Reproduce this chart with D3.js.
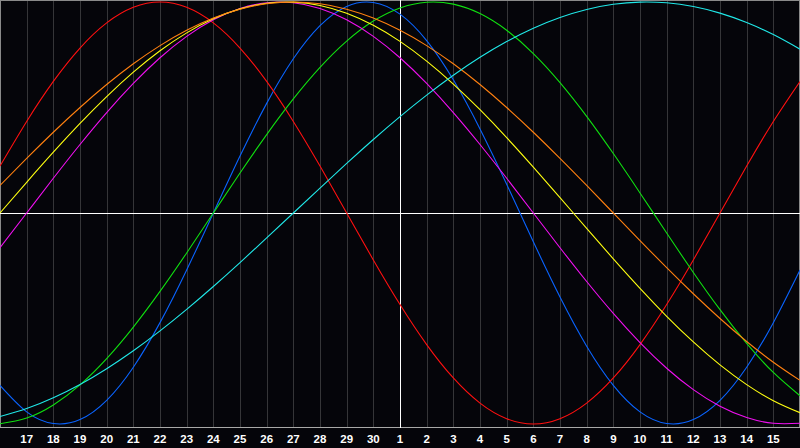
<!DOCTYPE html>
<html>
<head>
<meta charset="utf-8">
<script src="https://cdn.jsdelivr.net/npm/d3@7/dist/d3.min.js"></script>
<style>
  html, body { margin: 0; padding: 0; background: #05050a; }
  svg { display: block; }
</style>
</head>
<body>
<svg id="chart" width="800" height="448"></svg>
<script>
// Day labels along the bottom (index 1..29; index 0 and 30 are the edges)
const dayLabels = [17,18,19,20,21,22,23,24,25,26,27,28,29,30,1,2,3,4,5,6,7,8,9,10,11,12,13,14,15];
const todayIndex = 15;

// Series values (-1..1) per day, index 0..30
const physical = [-0.8170,-0.9423,-0.9977,-0.9791,-0.8879,-0.7308,-0.5196,-0.2698,0,0.2698,0.5196,0.7308,0.8879,0.9791,0.9977,0.9423,0.8170,0.6311,0.3984,0.1362,-0.1362,-0.3984,-0.6311,-0.8170,-0.9423,-0.9977,-0.9791,-0.8879,-0.7308,-0.5196,-0.2698];
const emotional = [0.2225,0.4339,0.6235,0.7818,0.9010,0.9749,1,0.9749,0.9010,0.7818,0.6235,0.4339,0.2225,0,-0.2225,-0.4339,-0.6235,-0.7818,-0.9010,-0.9749,-1,-0.9749,-0.9010,-0.7818,-0.6235,-0.4339,-0.2225,0,0.2225,0.4339,0.6235];
const intellectual = [-0.9989,-0.9718,-0.9096,-0.8146,-0.6901,-0.5406,-0.3717,-0.1893,0,0.1893,0.3717,0.5406,0.6901,0.8146,0.9096,0.9718,0.9989,0.9898,0.9450,0.8660,0.7557,0.6182,0.4582,0.2817,0.0951,-0.0951,-0.2817,-0.4582,-0.6182,-0.7557,-0.8660];
const intuitive = [-0.1646,0,0.1646,0.3247,0.4759,0.6142,0.7357,0.8372,0.9158,0.9694,0.9966,0.9966,0.9694,0.9158,0.8372,0.7357,0.6142,0.4759,0.3247,0.1646,0,-0.1646,-0.3247,-0.4759,-0.6142,-0.7357,-0.8372,-0.9158,-0.9694,-0.9966,-0.9966];
const aesthetic = [0,0.1456,0.2881,0.4244,0.5517,0.6673,0.7687,0.8536,0.9203,0.9675,0.9940,0.9993,0.9834,0.9464,0.8894,0.8133,0.7199,0.6112,0.4894,0.3572,0.2174,0.0730,-0.0730,-0.2174,-0.3572,-0.4894,-0.6112,-0.7199,-0.8133,-0.8894,-0.9464];
const awareness = [0.1305,0.2588,0.3827,0.5,0.6088,0.7071,0.7934,0.8660,0.9239,0.9659,0.9914,1,0.9914,0.9659,0.9239,0.8660,0.7934,0.7071,0.6088,0.5,0.3827,0.2588,0.1305,0,-0.1305,-0.2588,-0.3827,-0.5,-0.6088,-0.7071,-0.7934];
const spiritual = [-0.9646,-0.9267,-0.8757,-0.8125,-0.7378,-0.6528,-0.5586,-0.4566,-0.3482,-0.2349,-0.1183,0,0.1183,0.2349,0.3482,0.4566,0.5586,0.6528,0.7378,0.8125,0.8757,0.9267,0.9646,0.9890,0.9996,0.9961,0.9786,0.9473,0.9028,0.8456,0.7765];

const seriesNames = ["physical","emotional","intellectual","intuitive","aesthetic","awareness","spiritual"];
const seriesData = [physical, emotional, intellectual, intuitive, aesthetic, awareness, spiritual];
const seriesColors = ["#0a64ff","#ff1010","#10e010","#f010f0","#ffff10","#ff8010","#20e8e8"];

const W = 800, H = 448;
const svg = d3.select("#chart");
const nDays = physical.length - 1; // 30 intervals

const x = d3.scaleLinear().domain([0, nDays]).range([0, W]);
const y = d3.scaleLinear().domain([-1, 1]).range([424, 2]);
const bottomY = 427.5;

svg.append("rect").attr("x", 0).attr("y", 0).attr("width", W).attr("height", H).attr("fill", "#05050a");

// vertical grid
const gridIdx = d3.range(1, nDays);
svg.append("g").selectAll("line").data(gridIdx).join("line")
  .attr("x1", d => Math.round(x(d)) + 0.5).attr("x2", d => Math.round(x(d)) + 0.5)
  .attr("y1", 0).attr("y2", bottomY)
  .attr("stroke", "#353538").attr("stroke-width", 1).attr("shape-rendering", "crispEdges");

// frame
svg.append("line").attr("x1", 0.5).attr("x2", 0.5).attr("y1", 0).attr("y2", bottomY)
  .attr("stroke", "#8a8a8a").attr("shape-rendering", "crispEdges");
svg.append("line").attr("x1", W - 0.5).attr("x2", W - 0.5).attr("y1", 0).attr("y2", bottomY)
  .attr("stroke", "#8a8a8a").attr("shape-rendering", "crispEdges");
svg.append("line").attr("x1", 0).attr("x2", W).attr("y1", 0.5).attr("y2", 0.5)
  .attr("stroke", "#8a8a8a").attr("shape-rendering", "crispEdges");
svg.append("line").attr("x1", 0).attr("x2", W).attr("y1", bottomY).attr("y2", bottomY)
  .attr("stroke", "#a8a8a8").attr("shape-rendering", "crispEdges");

// zero line and today line
svg.append("line").attr("x1", 0).attr("x2", W).attr("y1", Math.round(y(0)) + 0.5).attr("y2", Math.round(y(0)) + 0.5)
  .attr("stroke", "#ffffff").attr("shape-rendering", "crispEdges");
svg.append("line").attr("x1", Math.round(x(todayIndex)) + 0.5).attr("x2", Math.round(x(todayIndex)) + 0.5)
  .attr("y1", 0).attr("y2", bottomY)
  .attr("stroke", "#ffffff").attr("shape-rendering", "crispEdges");

// curves
const line = d3.line().x((d, i) => x(i)).y(d => y(d)).curve(d3.curveNatural);
svg.append("g").selectAll("path").data(seriesData).join("path")
  .attr("class", (d, i) => seriesNames[i])
  .attr("d", d => line(d))
  .attr("fill", "none")
  .attr("stroke", (d, i) => seriesColors[i])
  .attr("stroke-width", 1.1);

// day labels
svg.append("g").selectAll("text").data(dayLabels).join("text")
  .attr("x", (d, i) => x(i + 1))
  .attr("y", 443)
  .attr("text-anchor", "middle")
  .attr("fill", "#ffffff")
  .attr("font-family", "'Liberation Sans', Arial, sans-serif")
  .attr("font-weight", "bold")
  .attr("font-size", "11.5px")
  .text(d => d);
</script>
</body>
</html>
